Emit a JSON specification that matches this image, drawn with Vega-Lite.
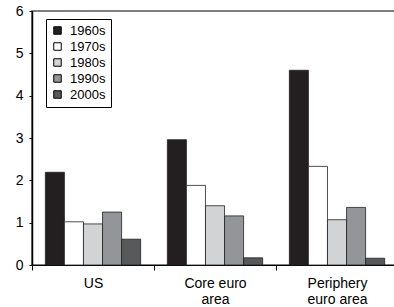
{
  "$schema": "https://vega.github.io/schema/vega-lite/v6.json",
  "width": 366,
  "height": 254,
  "autosize": {"type": "none"},
  "padding": {"left": 32, "top": 11, "right": 0, "bottom": 42},
  "background": "white",
  "config": {
    "font": "Liberation Sans",
    "view": {"stroke": "#555555", "strokeWidth": 1.5},
    "axis": {"grid": false, "domainColor": "black", "tickColor": "black", "labelColor": "black", "labelFont": "Liberation Sans", "labelFontSize": 14}
  },
  "data": {
    "values": [
      {"region": "US", "decade": "1960s", "value": 2.19},
      {"region": "US", "decade": "1970s", "value": 1.02},
      {"region": "US", "decade": "1980s", "value": 0.97},
      {"region": "US", "decade": "1990s", "value": 1.25},
      {"region": "US", "decade": "2000s", "value": 0.61},
      {"region": "Core euro area", "decade": "1960s", "value": 2.96},
      {"region": "Core euro area", "decade": "1970s", "value": 1.88},
      {"region": "Core euro area", "decade": "1980s", "value": 1.4},
      {"region": "Core euro area", "decade": "1990s", "value": 1.16},
      {"region": "Core euro area", "decade": "2000s", "value": 0.17},
      {"region": "Periphery euro area", "decade": "1960s", "value": 4.6},
      {"region": "Periphery euro area", "decade": "1970s", "value": 2.33},
      {"region": "Periphery euro area", "decade": "1980s", "value": 1.07},
      {"region": "Periphery euro area", "decade": "1990s", "value": 1.36},
      {"region": "Periphery euro area", "decade": "2000s", "value": 0.16}
    ]
  },
  "mark": {"type": "bar", "stroke": "#222222", "strokeWidth": 0.8},
  "encoding": {
    "x": {
      "field": "region", "type": "nominal",
      "sort": ["US", "Core euro area", "Periphery euro area"],
      "scale": {"paddingInner": 0, "paddingOuter": 0},
      "axis": {
        "title": null, "labelAngle": 0, "tickBand": "extent", "tickSize": 5,
        "labelPadding": 6, "labelLineHeight": 16, "domainWidth": 1,
        "labelExpr": "datum.value == 'Core euro area' ? ['Core euro', 'area'] : datum.value == 'Periphery euro area' ? ['Periphery', 'euro area'] : datum.value"
      }
    },
    "xOffset": {
      "field": "decade", "type": "nominal",
      "scale": {"paddingInner": 0, "paddingOuter": 0.7}
    },
    "y": {
      "field": "value", "type": "quantitative",
      "scale": {"domain": [0, 6], "nice": false},
      "axis": {"title": null, "values": [0, 1, 2, 3, 4, 5, 6], "tickSize": 3, "labelPadding": 6, "domainWidth": 1.5}
    },
    "fill": {
      "field": "decade", "type": "nominal",
      "scale": {"domain": ["1960s", "1970s", "1980s", "1990s", "2000s"], "range": ["#231f20", "#ffffff", "#d2d3d5", "#939598", "#58595b"]},
      "legend": {
        "title": null, "orient": "none", "legendX": 14, "legendY": 8,
        "symbolType": "square", "symbolSize": 56, "symbolStrokeColor": "black", "symbolStrokeWidth": 1,
        "labelFontSize": 13, "labelColor": "black", "rowPadding": 2,
        "strokeColor": "black", "padding": 5, "labelOffset": 6
      }
    }
  }
}
